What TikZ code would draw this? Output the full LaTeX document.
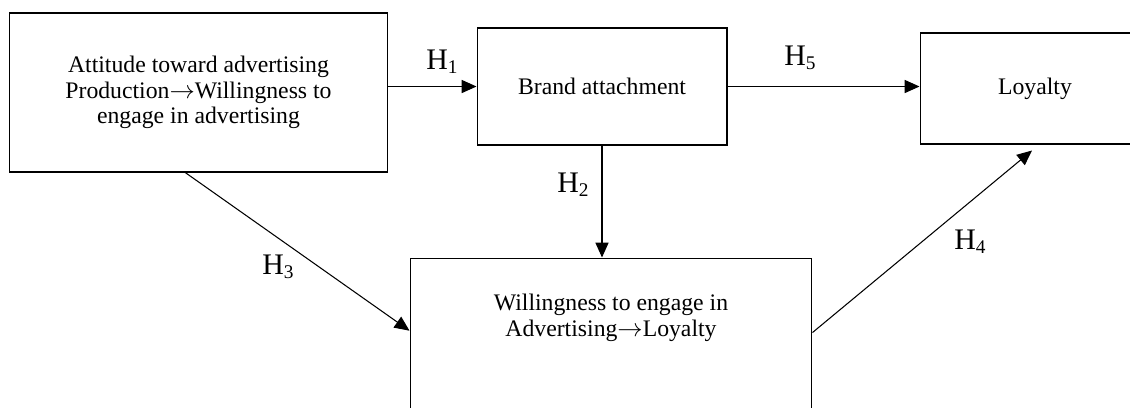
\documentclass[tikz,border=0pt]{standalone}
\usepackage{fontspec}
\setmainfont{Liberation Serif}
\usetikzlibrary{arrows.meta,calc}
\newcommand{\hsub}[1]{H\raisebox{-0.12em}{\fontsize{11}{11}\selectfont #1}}
\begin{document}
\begin{tikzpicture}[x=0.02cm,y=-0.02cm,
  box/.style={draw,line width=0.6pt,align=center,inner sep=0pt,font=\fontsize{13.5}{14.5}\selectfont},
  hyp/.style={font=\fontsize{17}{17}\selectfont},
  link/.style={-{Triangle[length=8.5pt,width=7.5pt]},line width=0.6pt}]
\useasboundingbox (0,0) rectangle (1130,407);
\clip (0,0) rectangle (1130,407);
\draw 	(198.5,92.5) node[box,minimum width=7.58cm,minimum height=3.18cm](att){Attitude toward advertising\\Production$\rightarrow$Willingness to\\engage in advertising}
		(602,86.5) node[box,minimum width=5cm,minimum height=2.34cm](brand){Brand attachment}
		(1035,88.5) node[box,minimum width=4.6cm,minimum height=2.22cm](loyal){Loyalty};
\draw 	(611,349) node[box,minimum width=8.04cm,minimum height=3.64cm](will){}
		(611,318) node[box,draw=none](willtxt){Willingness to engage in\\Advertising$\rightarrow$Loyalty};
\path[link]
    (att.east |- brand.west) edge node {} (brand.west)
    (brand.east) edge node {} (brand.east -| loyal.west)
    (brand.south) edge node {} (brand.south |- will.north)
    ($(att.south west)!0.465!(att.south east)$) edge node {} ($(will.north west)!0.4!(will.south west)$)
    ($(will.north east)!0.41!(will.south east)$) edge node {} ($(loyal.south)+(-3,6)$);
\node[hyp] (h1) at (442,62) {\hsub1};
\node[hyp] (h2) at (573,185) {\hsub2};
\node[hyp] (h3) at (278,267) {\hsub3};
\node[hyp] (h4) at (970,242) {\hsub4};
\node[hyp] (h5) at (800,58) {\hsub5};
\end{tikzpicture}
\end{document}
